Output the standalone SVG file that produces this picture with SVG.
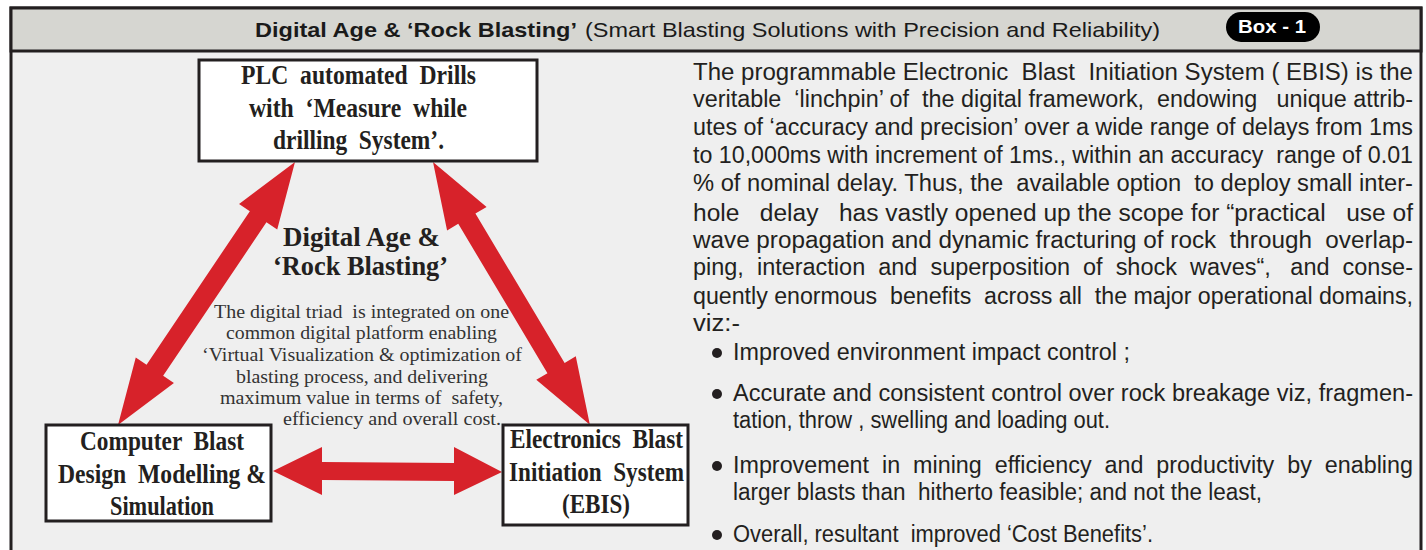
<svg xmlns="http://www.w3.org/2000/svg" width="1426" height="550" viewBox="0 0 1426 550" xml:space="preserve">
<style>
text{white-space:pre}
.hdr{font-family:"Liberation Sans",Arial,sans-serif;font-size:21px;fill:#1a1a1a}
.nd{font-family:"Liberation Serif","Times New Roman",serif;font-weight:bold;font-size:27px;fill:#231f20}
.sm{font-family:"Liberation Serif","Times New Roman",serif;font-size:18px;fill:#333}
.bd{font-family:"Liberation Sans",Arial,sans-serif;font-size:23px;fill:#231f20}
.box{fill:#fff;stroke:#231f20;stroke-width:3}
.arr{fill:#d7222a}
</style>
<rect x="0" y="0" width="1426" height="550" fill="#fff"/>
<g id="frame">
<rect x="11" y="8" width="1410" height="560" fill="#efefef" stroke="#231f20" stroke-width="3"/>
<rect x="11" y="8" width="1410" height="43" fill="#d6d6d1" stroke="#231f20" stroke-width="3"/>
<text class="hdr" y="37"><tspan x="255" font-weight="bold" textLength="322" lengthAdjust="spacingAndGlyphs">Digital Age &amp; ‘Rock Blasting’</tspan><tspan x="585" textLength="575" lengthAdjust="spacingAndGlyphs">(Smart Blasting Solutions with Precision and Reliability)</tspan></text>
<rect x="1226" y="12" width="94" height="30" rx="15" fill="#000"/>
<text x="1272" y="33" text-anchor="middle" font-family="Liberation Sans,Arial,sans-serif" font-weight="bold" font-size="19" fill="#fff" textLength="68" lengthAdjust="spacingAndGlyphs">Box - 1</text>
</g>
<g id="connectors">
<polygon class="arr" transform="translate(118,425) rotate(-56.06)" points="0,0 66,-23 66,-10 251,-10 251,-23 317,0 251,23 251,10 66,10 66,23"/>
<polygon class="arr" transform="translate(433,162) rotate(59.16)" points="0,0 66,-23 66,-10 240,-10 240,-23 306,0 240,23 240,10 66,10 66,23"/>
<polygon class="arr" points="273,471 322,447 322,462 454,463 454,447 502,472 454,495 454,481 322,480 322,495"/>
</g>
<g id="node-plc">
<rect class="box" x="199" y="60" width="338" height="101"/>
<text class="nd" x="241" y="84" textLength="235" lengthAdjust="spacingAndGlyphs">PLC  automated  Drills</text>
<text class="nd" x="249" y="117" textLength="218" lengthAdjust="spacingAndGlyphs">with  ‘Measure  while</text>
<text class="nd" x="273" y="149" textLength="171" lengthAdjust="spacingAndGlyphs">drilling  System’.</text>
</g>
<g id="node-computer">
<rect class="box" x="46" y="425" width="225" height="96"/>
<text class="nd" x="80" y="450" textLength="164" lengthAdjust="spacingAndGlyphs">Computer  Blast</text>
<text class="nd" x="58" y="483" textLength="208" lengthAdjust="spacingAndGlyphs">Design  Modelling &amp;</text>
<text class="nd" x="110" y="515" textLength="104" lengthAdjust="spacingAndGlyphs">Simulation</text>
</g>
<g id="node-ebis">
<rect class="box" x="503" y="425" width="185" height="100"/>
<text class="nd" x="510" y="448" textLength="173" lengthAdjust="spacingAndGlyphs">Electronics  Blast</text>
<text class="nd" x="509" y="481" textLength="175" lengthAdjust="spacingAndGlyphs">Initiation  System</text>
<text class="nd" x="562" y="513" textLength="68" lengthAdjust="spacingAndGlyphs">(EBIS)</text>
</g>
<g id="center-label">
<text class="nd" x="283" y="246" textLength="157" lengthAdjust="spacingAndGlyphs">Digital Age &amp;</text>
<text class="nd" x="273" y="275" textLength="175" lengthAdjust="spacingAndGlyphs">‘Rock Blasting’</text>
<text class="sm" x="214" y="318" textLength="295" lengthAdjust="spacingAndGlyphs">The digital triad  is integrated on one</text>
<text class="sm" x="226" y="339" textLength="271" lengthAdjust="spacingAndGlyphs">common digital platform enabling</text>
<text class="sm" x="202" y="361" textLength="320" lengthAdjust="spacingAndGlyphs">‘Virtual Visualization &amp; optimization of</text>
<text class="sm" x="236" y="383" textLength="252" lengthAdjust="spacingAndGlyphs">blasting process, and delivering</text>
<text class="sm" x="220" y="404" textLength="283" lengthAdjust="spacingAndGlyphs">maximum value in terms of  safety,</text>
<text class="sm" x="283" y="425" textLength="218" lengthAdjust="spacingAndGlyphs">efficiency and overall cost.</text>
</g>
<g id="body-text">
<text class="bd" x="693" y="80" textLength="720" lengthAdjust="spacingAndGlyphs">The programmable Electronic  Blast  Initiation System ( EBIS) is the</text>
<text class="bd" x="693" y="107" textLength="720" lengthAdjust="spacingAndGlyphs">veritable  ‘linchpin’ of  the digital framework,  endowing   unique attrib-</text>
<text class="bd" x="693" y="135" textLength="720" lengthAdjust="spacingAndGlyphs">utes of ‘accuracy and precision’ over a wide range of delays from 1ms</text>
<text class="bd" x="693" y="163" textLength="720" lengthAdjust="spacingAndGlyphs">to 10,000ms with increment of 1ms., within an accuracy  range of 0.01</text>
<text class="bd" x="693" y="191" textLength="720" lengthAdjust="spacingAndGlyphs">% of nominal delay. Thus, the  available option  to deploy small inter-</text>
<text class="bd" x="693" y="221" textLength="720" lengthAdjust="spacingAndGlyphs">hole   delay   has vastly opened up the scope for “practical   use of</text>
<text class="bd" x="693" y="248" textLength="720" lengthAdjust="spacingAndGlyphs">wave propagation and dynamic fracturing of rock  through  overlap-</text>
<text class="bd" x="693" y="275" textLength="720" lengthAdjust="spacingAndGlyphs">ping,  interaction  and  superposition  of  shock  waves“,   and  conse-</text>
<text class="bd" x="693" y="304" textLength="720" lengthAdjust="spacingAndGlyphs">quently enormous  benefits  across all  the major operational domains,</text>
<text class="bd" x="693" y="331" textLength="47" lengthAdjust="spacingAndGlyphs">viz:-</text>
<circle cx="717" cy="353" r="5" fill="#231f20"/>
<text class="bd" x="733" y="360" textLength="397" lengthAdjust="spacingAndGlyphs">Improved environment impact control ;</text>
<circle cx="717" cy="394" r="5" fill="#231f20"/>
<text class="bd" x="733" y="401" textLength="680" lengthAdjust="spacingAndGlyphs">Accurate and consistent control over rock breakage viz, fragmen-</text>
<text class="bd" x="733" y="428" textLength="377" lengthAdjust="spacingAndGlyphs">tation, throw , swelling and loading out.</text>
<circle cx="717" cy="466" r="5" fill="#231f20"/>
<text class="bd" x="733" y="473" textLength="680" lengthAdjust="spacingAndGlyphs">Improvement  in  mining  efficiency  and  productivity  by  enabling</text>
<text class="bd" x="733" y="500" textLength="529" lengthAdjust="spacingAndGlyphs">larger blasts than  hitherto feasible; and not the least,</text>
<circle cx="717" cy="535" r="5" fill="#231f20"/>
<text class="bd" x="733" y="542" textLength="420" lengthAdjust="spacingAndGlyphs">Overall, resultant  improved ‘Cost Benefits’.</text>
</g>
</svg>
